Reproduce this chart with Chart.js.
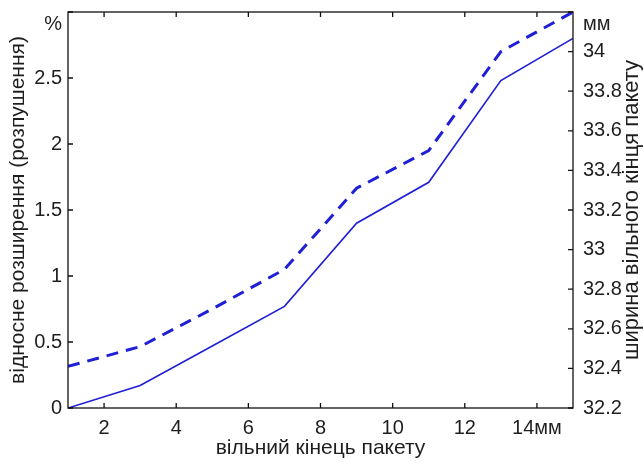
<!DOCTYPE html>
<html>
<head>
<meta charset="utf-8">
<script src="https://cdn.jsdelivr.net/npm/chart.js@4/dist/chart.umd.min.js"></script>
<style>
  html, body { margin: 0; padding: 0; background: #fff; }
</style>
</head>
<body>
<canvas id="chart" width="644" height="465"></canvas>
<script>
// free end position, mm
const xValues = [1, 3, 5, 7, 9, 11, 13, 15];
// relative expansion (loosening), % - solid line, left axis
const relExpansion = [0, 0.17, 0.47, 0.77, 1.40, 1.71, 2.48, 2.80];
// width of the package free end, mm - dashed line, right axis
const endWidth = [32.41, 32.51, 32.70, 32.90, 33.31, 33.50, 34.0, 34.2];

const xTicks = [2, 4, 6, 8, 10, 12, 14];
const leftTicks = [0, 0.5, 1, 1.5, 2, 2.5, 3];
const rightTicks = [32.2, 32.4, 32.6, 32.8, 33, 33.2, 33.4, 33.6, 33.8, 34, 34.2];

const blue = "#1f1fd6";
const ink = "#1e1e1e";
const fontFamily = "'Liberation Sans', Arial, sans-serif";

Chart.defaults.font.family = fontFamily;
Chart.defaults.font.size = 20;
Chart.defaults.color = ink;

// box round the plot, inward tick marks, axis titles
const frame = {
  id: "frame",
  afterDraw(chart) {
    const ctx = chart.ctx;
    const a = chart.chartArea;
    const sx = chart.scales.x, sy = chart.scales.y, sy2 = chart.scales.y2;
    const len = 5;
    ctx.save();
    ctx.strokeStyle = "#111";
    ctx.lineWidth = 1.3;
    ctx.strokeRect(a.left, a.top, a.right - a.left, a.bottom - a.top);
    ctx.beginPath();
    xTicks.forEach(v => {
      const p = sx.getPixelForValue(v);
      ctx.moveTo(p, a.bottom); ctx.lineTo(p, a.bottom - len);
      ctx.moveTo(p, a.top); ctx.lineTo(p, a.top + len);
    });
    leftTicks.forEach(v => {
      const p = sy.getPixelForValue(v);
      ctx.moveTo(a.left, p); ctx.lineTo(a.left + len, p);
    });
    rightTicks.forEach(v => {
      const p = sy2.getPixelForValue(v);
      ctx.moveTo(a.right, p); ctx.lineTo(a.right - len, p);
    });
    ctx.stroke();

    ctx.fillStyle = ink;
    ctx.font = "21px " + fontFamily;
    ctx.textAlign = "center";
    ctx.textBaseline = "middle";
    ctx.fillText("вільний кінець пакету", (a.left + a.right) / 2, 448);

    ctx.save();
    ctx.translate(18, 210);
    ctx.rotate(-Math.PI / 2);
    ctx.fillText("відносне розширення (розпушення)", 0, 0);
    ctx.restore();

    ctx.font = "22px " + fontFamily;
    ctx.save();
    ctx.translate(632, 210);
    ctx.rotate(-Math.PI / 2);
    ctx.fillText("ширина вільного кінця пакету", 0, 0);
    ctx.restore();
    ctx.restore();
  }
};

const fitVertical = w => s => {
  s.width = w;
  s.paddingTop = 0;
  s.paddingBottom = 0;
};

new Chart(document.getElementById("chart"), {
  type: "line",
  data: {
    labels: xValues,
    datasets: [
      {
        label: "відносне розширення",
        data: xValues.map((x, i) => ({ x: x, y: relExpansion[i] })),
        yAxisID: "y",
        borderColor: blue,
        borderWidth: 1.6,
        pointRadius: 0,
        tension: 0,
      },
      {
        label: "ширина вільного кінця",
        data: xValues.map((x, i) => ({ x: x, y: endWidth[i] })),
        yAxisID: "y2",
        borderColor: blue,
        borderWidth: 3,
        borderDash: [12, 8],
        pointRadius: 0,
        tension: 0,
      },
    ],
  },
  options: {
    responsive: false,
    animation: false,
    layout: { padding: { top: 12, left: 0, right: 0, bottom: 0 } },
    plugins: {
      legend: { display: false },
      tooltip: { enabled: false },
    },
    scales: {
      x: {
        type: "linear",
        min: 1,
        max: 15,
        grid: { display: false, drawTicks: false },
        border: { display: false },
        afterBuildTicks: s => { s.ticks = xTicks.map(v => ({ value: v })); },
        afterFit: s => { s.height = 57; s.paddingLeft = 0; s.paddingRight = 0; },
        ticks: {
          padding: 8,
          maxRotation: 0,
          autoSkip: false,
          callback: v => (v === 14 ? "14мм" : String(v)),
        },
      },
      y: {
        position: "left",
        min: 0,
        max: 3,
        grid: { display: false, drawTicks: false },
        border: { display: false },
        afterBuildTicks: s => { s.ticks = leftTicks.map(v => ({ value: v })); },
        afterFit: fitVertical(68),
        ticks: {
          padding: 6,
          autoSkip: false,
          callback: v => (v === 3 ? ["", "%"] : String(v)),
        },
      },
      y2: {
        position: "right",
        min: 32.2,
        max: 34.2,
        grid: { display: false, drawTicks: false },
        border: { display: false },
        afterBuildTicks: s => { s.ticks = rightTicks.map(v => ({ value: v })); },
        afterFit: fitVertical(71),
        ticks: {
          padding: 10,
          autoSkip: false,
          callback: v => (Math.abs(v - 34.2) < 1e-6 ? ["", "мм"] : String(Math.round(v * 10) / 10)),
        },
      },
    },
  },
  plugins: [frame],
});
</script>
</body>
</html>
